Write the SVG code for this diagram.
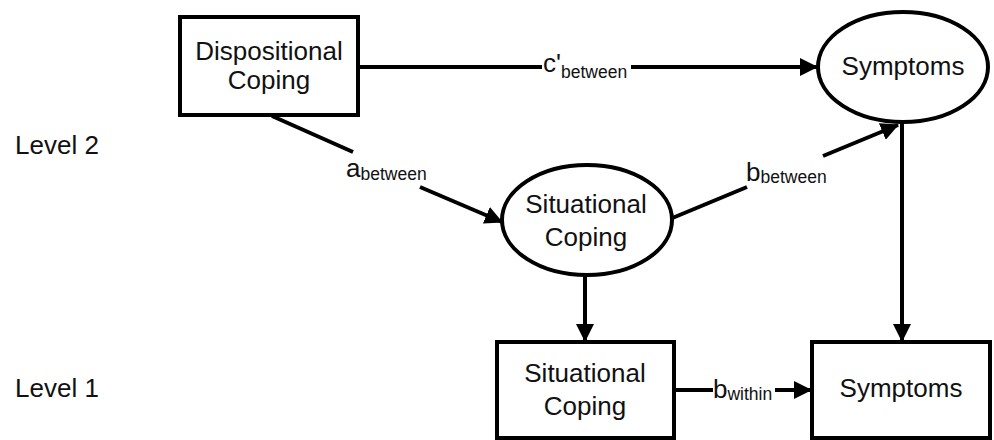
<svg xmlns="http://www.w3.org/2000/svg" width="994" height="440" viewBox="0 0 994 440">
<style>
text{font-family:"Liberation Sans",Arial,sans-serif;fill:#111;}
.n{font-size:26px;text-anchor:middle;}
.lv{font-size:26px;}
.lb{font-size:26px;}
.sub{font-size:17.5px;}
.shape{fill:#fff;stroke:#000;stroke-width:4;}
.edge{stroke:#000;stroke-width:4;fill:none;}
</style>
<defs>
<marker id="arr" viewBox="0 0 18 18" refX="17" refY="9" markerWidth="18" markerHeight="18" markerUnits="userSpaceOnUse" orient="auto">
<path d="M0,0 L18,9 L0,18 z" fill="#000"/>
</marker>
</defs>
<rect width="994" height="440" fill="#fff"/>
<text class="lv" x="15" y="154">Level 2</text>
<text class="lv" x="15" y="397">Level 1</text>
<g id="connectors">
<line class="edge" x1="358" y1="67" x2="542" y2="67"/>
<line class="edge" x1="631" y1="67" x2="817" y2="67" marker-end="url(#arr)"/>
<line class="edge" x1="272" y1="116" x2="353" y2="152"/>
<line class="edge" x1="420" y1="187" x2="502" y2="222" marker-end="url(#arr)"/>
<line class="edge" x1="670" y1="219" x2="747" y2="187"/>
<line class="edge" x1="823" y1="156" x2="898" y2="125" marker-end="url(#arr)"/>
<line class="edge" x1="585" y1="275" x2="585" y2="341" marker-end="url(#arr)"/>
<line class="edge" x1="902" y1="123" x2="902" y2="341" marker-end="url(#arr)"/>
<line class="edge" x1="674" y1="390" x2="713" y2="390"/>
<line class="edge" x1="775" y1="390" x2="811" y2="390" marker-end="url(#arr)"/>
<text class="lb" x="543" y="72">c'<tspan class="sub" dy="6">between</tspan></text>
<text class="lb" x="346" y="177">a<tspan class="sub" dy="3">between</tspan></text>
<text class="lb" x="746" y="181">b<tspan class="sub" dy="2">between</tspan></text>
<text class="lb" x="713" y="398">b<tspan class="sub" dy="2">within</tspan></text>
</g>
<g id="dispositional">
<rect class="shape" x="180" y="17" width="178" height="98"/>
<text class="n" x="269" y="60">Dispositional</text>
<text class="n" x="269" y="89">Coping</text>
</g>
<g id="symptoms2">
<ellipse class="shape" cx="903" cy="67" rx="85" ry="55"/>
<text class="n" x="903" y="75">Symptoms</text>
</g>
<g id="situational2">
<ellipse class="shape" cx="587" cy="220" rx="85" ry="55"/>
<text class="n" x="586" y="213">Situational</text>
<text class="n" x="586" y="246">Coping</text>
</g>
<g id="situational1">
<rect class="shape" x="497" y="342" width="177" height="96"/>
<text class="n" x="585" y="382">Situational</text>
<text class="n" x="585" y="415">Coping</text>
</g>
<g id="symptoms1">
<rect class="shape" x="812" y="342" width="178" height="96"/>
<text class="n" x="901" y="397">Symptoms</text>
</g>
</svg>
